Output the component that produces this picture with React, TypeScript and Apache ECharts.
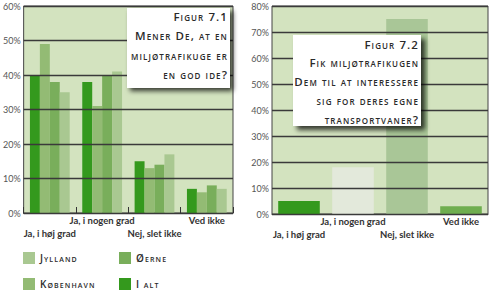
import React, { useEffect, useRef } from 'react';
import * as echarts from 'echarts';

const categories = ['Ja, i høj grad', 'Ja, i nogen grad', 'Nej, slet ikke', 'Ved ikke'];
const seriesNames = ['I alt', 'København', 'Øerne', 'Jylland'];
const iAlt = [40, 38, 15, 7];
const kobenhavn = [49, 31, 13, 6];
const oerne = [38, 40, 14, 8];
const jylland = [35, 41, 17, 7];
const fig72Values = [5, 18, 75, 3];
const legendOrder = ['Jylland', 'Øerne', 'København', 'I alt'];
const fig71Title = ['Figur 7.1', 'Mener De, at en', 'miljøtrafikuge er', 'en god ide?'];
const fig72Title = ['Figur 7.2', 'Fik miljøtrafikugen', 'Dem til at interessere', 'sig for deres egne', 'transportvaner?'];

const leftColors = ['#34991d', '#93bb74', '#79ae5b', '#a9c891'];
const rightColors = ['#34991d', '#e3e9db', '#a9c697', '#6fae4f'];
const plotBg = '#d3e3bf';
const scFont = "Optima, 'Open Sans', sans-serif";

const css = `text[style*="Optima"]{font-variant:small-caps;letter-spacing:1.1px;}`;

function catFormatter(value: string, index: number) {
  return index % 2 === 0 ? '\n' + value : value;
}

function buildOption() {
  const lefts = [iAlt, kobenhavn, oerne, jylland];
  const axisLabelX = {
    interval: 0,
    formatter: catFormatter,
    fontFamily: 'Lato',
    fontWeight: 'bold',
    fontSize: 9.5,
    color: '#333',
    lineHeight: 13,
    margin: 1,
  };
  const yLabel = { formatter: '{value}%', fontFamily: 'Lato', fontSize: 9, color: '#555', margin: 3 };
  const split = { show: true, lineStyle: { color: '#3a3a3a', width: 1.3 } };

  const legendPos = [
    { left: 23, top: 252 },
    { left: 119, top: 252 },
    { left: 23, top: 278 },
    { left: 119, top: 278 },
  ];

  const titleLines1Y = [16, 35, 55, 74];
  const titleLines2Y = [44, 62, 81, 100, 119];

  const textEl = (t: string, x: number, y: number) => ({
    type: 'text',
    x,
    y,
    z: 20,
    style: {
      text: t,
      fontFamily: scFont,
      fontWeight: 600,
      fontSize: 11.5,
      fill: '#2a2a2a',
      align: 'right',
      textAlign: 'right',
      verticalAlign: 'middle',
      textVerticalAlign: 'middle',
    },
  });

  return {
    animation: false,
    grid: [
      { left: 23, top: 6, width: 210, height: 207, show: true, backgroundColor: plotBg, borderColor: '#444', borderWidth: 1 },
      { left: 272, top: 6, width: 216, height: 208, show: true, backgroundColor: plotBg, borderColor: '#444', borderWidth: 1 },
    ],
    xAxis: [
      {
        type: 'category', gridIndex: 0, data: categories,
        axisLine: { lineStyle: { color: '#333' } },
        axisTick: { show: true, inside: true, length: 6, interval: 0, lineStyle: { color: '#333' } },
        axisLabel: axisLabelX,
      },
      {
        type: 'category', gridIndex: 1, data: categories,
        axisLine: { lineStyle: { color: '#333' } },
        axisTick: { show: false },
        axisLabel: axisLabelX,
      },
    ],
    yAxis: [
      { type: 'value', gridIndex: 0, min: 0, max: 60, interval: 10, z: 3, axisLine: { show: false }, axisTick: { show: false }, axisLabel: yLabel, splitLine: split },
      { type: 'value', gridIndex: 1, min: 0, max: 80, interval: 10, z: 3, axisLine: { show: false }, axisTick: { show: false }, axisLabel: yLabel, splitLine: split },
    ],
    legend: legendOrder.map((name, i) => ({
      data: [name],
      left: legendPos[i].left,
      top: legendPos[i].top,
      padding: 0,
      itemWidth: 12,
      itemHeight: 12,
      icon: 'rect',
      selectedMode: false,
      textStyle: { fontFamily: scFont, fontWeight: 600, fontSize: 10, color: '#2a2a2a' },
    })),
    series: [
      ...seriesNames.map((name, i) => ({
        name,
        type: 'bar',
        xAxisIndex: 0,
        yAxisIndex: 0,
        data: lefts[i],
        barGap: '0%',
        barCategoryGap: '24%',
        itemStyle: { color: leftColors[i] },
      })),
      {
        name: 'Figur 7.2',
        type: 'bar',
        xAxisIndex: 1,
        yAxisIndex: 1,
        barCategoryGap: '23%',
        data: fig72Values.map((v, i) => ({ value: v, itemStyle: { color: rightColors[i] } })),
      },
    ],
    graphic: [
      {
        type: 'rect', z: 19,
        shape: { x: 127, y: 8, width: 103, height: 80 },
        style: { fill: '#fff', shadowBlur: 5, shadowOffsetX: 3, shadowOffsetY: 3, shadowColor: 'rgba(0,0,0,0.75)' },
      },
      ...fig71Title.map((t, i) => textEl(t, 228, titleLines1Y[i])),
      {
        type: 'rect', z: 19,
        shape: { x: 293, y: 35, width: 128, height: 91 },
        style: { fill: '#fff', shadowBlur: 5, shadowOffsetX: 4, shadowOffsetY: 4, shadowColor: 'rgba(0,0,0,0.75)' },
      },
      ...fig72Title.map((t, i) => textEl(t, 419, titleLines2Y[i])),
    ],
  };
}

export default function App() {
  const ref = useRef<HTMLDivElement>(null);
  useEffect(() => {
    if (!ref.current) return;
    const chart = echarts.init(ref.current, null, { renderer: 'svg' });
    chart.setOption(buildOption() as any);
    return () => chart.dispose();
  }, []);
  return (
    <>
      <style>{css}</style>
      <div ref={ref} style={{ position: 'fixed', left: 0, top: 0, width: 490, height: 292, background: '#fff' }} />
    </>
  );
}
